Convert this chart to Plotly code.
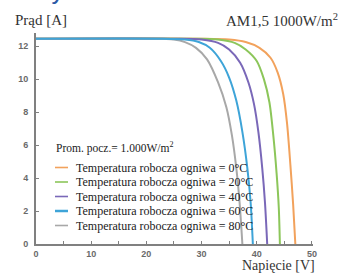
import plotly.graph_objects as go

# ---- data ----
series_names = [
    "Temperatura robocza ogniwa = 0°C",
    "Temperatura robocza ogniwa = 20°C",
    "Temperatura robocza ogniwa = 40°C",
    "Temperatura robocza ogniwa = 60°C",
    "Temperatura robocza ogniwa = 80°C",
]
series_colors = ["#f2a25c", "#8cc65a", "#7a68b8", "#3ea4d8", "#a8a8a8"]

v_0C = [0, 30, 35, 38, 40.5, 42.5, 43.8, 44.8, 45.5, 46.1, 46.6, 47.0]
i_0C = [12.45, 12.45, 12.4, 12.25, 11.9, 11.3, 10.4, 9.1, 7.3, 4.8, 2.4, 0]

v_20C = [0, 28, 33, 36, 38, 40, 41.3, 42.3, 43.0, 43.6, 44.0, 44.2]
i_20C = [12.45, 12.45, 12.4, 12.2, 11.8, 11.1, 10.0, 8.6, 6.6, 4.3, 2.2, 0]

v_40C = [0, 25, 30, 33, 35, 37, 38.5, 39.5, 40.3, 41.0, 41.5, 41.9]
i_40C = [12.45, 12.45, 12.4, 12.2, 11.8, 11.0, 9.8, 8.5, 6.8, 4.6, 2.5, 0]

v_60C = [0, 22, 27, 29.5, 31.5, 33.5, 35, 36.3, 37.4, 38.3, 38.9, 39.3]
i_60C = [12.45, 12.45, 12.4, 12.25, 11.9, 11.1, 10.1, 8.7, 6.8, 4.6, 2.5, 0]

v_80C = [0, 20, 25, 27, 29, 31, 33, 34.5, 35.5, 36.3, 36.9, 37.4]
i_80C = [12.45, 12.45, 12.4, 12.25, 11.9, 11.2, 9.8, 8.3, 6.6, 4.6, 2.5, 0]

x_ticks = [0, 10, 20, 30, 40, 50]
y_ticks = [0, 2, 4, 6, 8, 10, 12]

volts = [v_0C, v_20C, v_40C, v_60C, v_80C]
amps = [i_0C, i_20C, i_40C, i_60C, i_80C]

# ---- layout geometry (pixels) ----
W, H = 343, 280
L, R, T, B = 36, 30, 33, 36
pw, ph = W - L - R, H - T - B


def px(x):
    return (x - L) / pw


def py(y):
    return (H - B - y) / ph


fig = go.Figure()
draw_order = [0, 1, 2, 4, 3]
for k in draw_order:
    fig.add_trace(go.Scatter(
        x=volts[k], y=amps[k], mode="lines", name=series_names[k],
        line=dict(color=series_colors[k], width=2, shape="spline", smoothing=0.8),
        showlegend=False, hoverinfo="skip"))

serif = "Liberation Serif, Times New Roman, serif"
ann = []
shapes = []
# manual legend
row_y = [167.5, 182, 196.5, 211, 225.5]
for k, yy in enumerate(row_y):
    shapes.append(dict(type="line", xref="paper", yref="paper",
                       x0=px(55), x1=px(68), y0=py(yy), y1=py(yy),
                       line=dict(color=series_colors[k], width=2.5 if k == 3 else 1.6)))
    ann.append(dict(text=series_names[k], xref="paper", yref="paper",
                    x=px(74), y=py(yy), xanchor="left", yanchor="middle",
                    showarrow=False, font=dict(family=serif, size=12, color="#222")))
ann.append(dict(text="Prom. pocz.= 1.000W/m<sup>2</sup>", xref="paper", yref="paper",
                x=px(54), y=py(147), xanchor="left", yanchor="middle",
                showarrow=False, font=dict(family=serif, size=11.5, color="#222")))
ann.append(dict(text="Prąd [A]", xref="paper", yref="paper",
                x=px(13), y=py(20), xanchor="left", yanchor="middle",
                showarrow=False, font=dict(family=serif, size=15, color="#333")))
ann.append(dict(text="AM1,5 1000W/m<sup>2</sup>", xref="paper", yref="paper",
                x=px(340), y=py(20), xanchor="right", yanchor="middle",
                showarrow=False, font=dict(family=serif, size=15, color="#333")))
ann.append(dict(text="Napięcie [V]", xref="paper", yref="paper",
                x=px(317), y=py(265), xanchor="right", yanchor="middle",
                showarrow=False, font=dict(family=serif, size=14, color="#333")))
ann.append(dict(text="Krzywe I-V", xref="paper", yref="paper",
                x=px(12), y=py(-10), xanchor="left", yanchor="middle",
                showarrow=False, font=dict(family="Liberation Sans, Arial, sans-serif",
                                           size=25, color="#2b5aa6")))

tickfont = dict(family="Liberation Sans, Arial, sans-serif", size=9, color="#6a6a6a", weight="bold")
fig.update_layout(
    width=W, height=H,
    margin=dict(l=L, r=R, t=T, b=B, pad=0),
    paper_bgcolor="white", plot_bgcolor="white",
    annotations=ann, shapes=shapes,
    xaxis=dict(range=[0, 50.2], tickvals=x_ticks, showgrid=False, zeroline=False,
               showline=True, linecolor="#808080", linewidth=2,
               ticks="inside", ticklen=3, tickcolor="#808080", tickwidth=1,
               minor=dict(dtick=5, ticks="inside", ticklen=3, tickcolor="#808080"),
               tickfont=tickfont, fixedrange=True),
    yaxis=dict(range=[0, 12.8], tickvals=y_ticks, showgrid=False, zeroline=False,
               showline=True, linecolor="#808080", linewidth=2,
               ticks="inside", ticklen=3, tickcolor="#808080", tickwidth=1,
               tickfont=tickfont, ticklabelstandoff=4, fixedrange=True),
)

fig.write_html("out.html", config={"displayModeBar": False},
               post_script="document.body.style.margin='0';document.body.style.overflow='hidden';")
